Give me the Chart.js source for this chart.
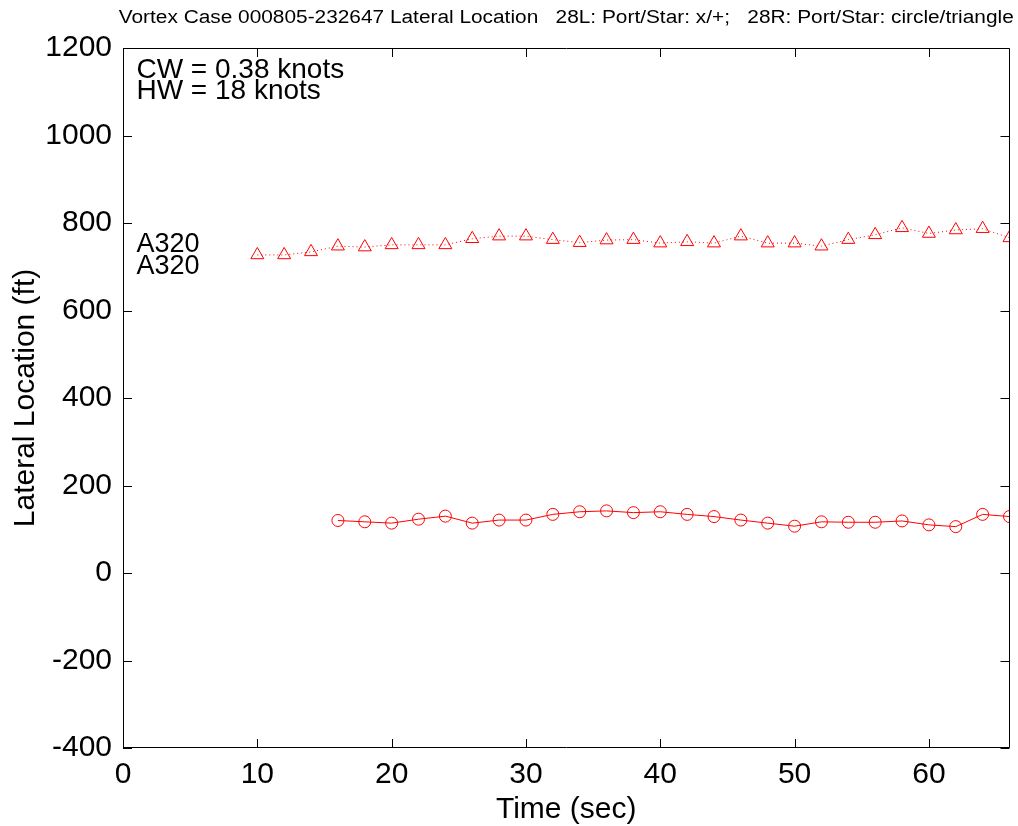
<!DOCTYPE html>
<html>
<head>
<meta charset="utf-8">
<title>Vortex Case 000805-232647 Lateral Location</title>
<script src="https://cdn.jsdelivr.net/npm/chart.js@4/dist/chart.umd.min.js"></script>
<style>
  html, body { margin: 0; padding: 0; background: #ffffff; }
  canvas { display: block; }
</style>
</head>
<body>
<canvas id="c" width="1018" height="826"></canvas>
<script>
// Time axis (sec) for the two tracked vortices
const timeStar = [10, 12, 14, 16, 18, 20, 22, 24, 26, 28, 30, 32, 34, 36, 38, 40,
                  42, 44, 46, 48, 50, 52, 54, 56, 58, 60, 62, 64, 66];
const timePort = [16, 18, 20, 22, 24, 26, 28, 30, 32, 34, 36, 38, 40,
                  42, 44, 46, 48, 50, 52, 54, 56, 58, 60, 62, 64, 66];

// 28R starboard vortex (triangles), lateral location in ft
const lateralStar = [727, 727, 734, 747, 745, 750, 750, 750, 764, 770, 770, 762, 755, 761, 762, 754,
                     757, 754, 770, 754, 754, 747, 762, 773, 789, 776, 784, 787, 766];
// 28R port vortex (circles), lateral location in ft
const lateralPort = [120, 117, 114, 123, 130, 114, 121, 121, 134, 140, 142, 138, 140,
                     134, 129, 121, 114, 107, 117, 116, 116, 119, 110, 106, 134, 129];

const xTicks = [0, 10, 20, 30, 40, 50, 60];
const yTicks = [-400, -200, 0, 200, 400, 600, 800, 1000, 1200];

const titleText = 'Vortex Case 000805-232647 Lateral Location   28L: Port/Star: x/+;   28R: Port/Star: circle/triangle';
const windLines = ['CW = 0.38 knots', 'HW = 18 knots'];
const aircraftLabels = ['A320', 'A320'];

const FONT = '"Liberation Sans", Arial, Helvetica, sans-serif';

// Frame, inward tick marks, header line and text annotations
const framePlugin = {
  id: 'frame',
  afterDraw(chart) {
    const ctx = chart.ctx;
    const a = chart.chartArea;
    const xs = chart.scales.x, ys = chart.scales.y;
    const tl = 9;
    ctx.save();
    ctx.strokeStyle = '#000';
    ctx.lineWidth = 1;
    ctx.beginPath();
    ctx.rect(Math.round(a.left) + 0.5, Math.round(a.top) + 0.5,
             Math.round(a.right - a.left) - 1, Math.round(a.bottom - a.top) - 1);
    xTicks.forEach(v => {
      const px = Math.round(xs.getPixelForValue(v)) + 0.5;
      ctx.moveTo(px, a.bottom); ctx.lineTo(px, a.bottom - tl);
      ctx.moveTo(px, a.top); ctx.lineTo(px, a.top + tl);
    });
    yTicks.forEach(v => {
      const py = Math.round(ys.getPixelForValue(v)) + 0.5;
      ctx.moveTo(a.left, py); ctx.lineTo(a.left + tl, py);
      ctx.moveTo(a.right, py); ctx.lineTo(a.right - tl, py);
    });
    ctx.stroke();

    // header line, centred over the plot
    ctx.fillStyle = '#000';
    ctx.font = '18px "Liberation Sans Narrow", ' + FONT;
    ctx.textBaseline = 'middle';
    ctx.textAlign = 'center';
    const w = ctx.measureText(titleText).width;
    const target = 895;
    const cx = (a.left + a.right) / 2;
    ctx.save();
    ctx.translate(cx, 18);
    ctx.scale(target / w, 1);
    ctx.fillText(titleText, 0, 0);
    ctx.restore();

    // wind annotation and aircraft labels, placed in data coordinates
    ctx.font = '28px ' + FONT;
    ctx.textAlign = 'left';
    ctx.textBaseline = 'middle';
    const tx = xs.getPixelForValue(1);
    ctx.fillText(windLines[0], tx, ys.getPixelForValue(1150));
    ctx.fillText(windLines[1], tx, ys.getPixelForValue(1100));
    ctx.font = '27px ' + FONT;
    ctx.fillText(aircraftLabels[0], tx, ys.getPixelForValue(750));
    ctx.fillText(aircraftLabels[1], tx, ys.getPixelForValue(700));
    ctx.restore();
  }
};

const toPoints = (xs, ys) => xs.map((x, i) => ({ x: x, y: ys[i] }));

new Chart(document.getElementById('c'), {
  type: 'line',
  data: {
    datasets: [
      {
        label: '28R Star',
        data: toPoints(timeStar, lateralStar),
        borderColor: '#ff0000',
        borderWidth: 1,
        borderDash: [1, 3],
        pointStyle: 'triangle',
        pointRadius: 7.5,
        pointBorderWidth: 1,
        pointBorderColor: '#ff0000',
        pointBackgroundColor: 'rgba(0,0,0,0)',
        tension: 0
      },
      {
        label: '28R Port',
        data: toPoints(timePort, lateralPort),
        borderColor: '#ff0000',
        borderWidth: 1,
        pointStyle: 'circle',
        pointRadius: 6,
        pointBorderWidth: 1,
        pointBorderColor: '#ff0000',
        pointBackgroundColor: 'rgba(0,0,0,0)',
        tension: 0
      }
    ]
  },
  options: {
    responsive: false,
    animation: false,
    events: [],
    layout: { padding: { top: 48, right: 2, left: 0, bottom: 0 } },
    plugins: {
      legend: { display: false },
      tooltip: { enabled: false },
      title: { display: false }
    },
    scales: {
      x: {
        type: 'linear',
        min: 0,
        max: 66,
        afterBuildTicks: s => { s.ticks = xTicks.map(v => ({ value: v })); },
        afterFit: s => { s.height = 78; s.paddingLeft = 0; s.paddingRight = 0; },
        grid: { display: false, drawTicks: false },
        border: { display: false },
        ticks: {
          color: '#000',
          padding: 9,
          font: { family: FONT, size: 30 },
          maxRotation: 0,
          autoSkip: false,
          callback: v => String(v)
        },
        title: {
          display: true,
          text: 'Time (sec)',
          color: '#000',
          font: { family: FONT, size: 30, lineHeight: 1.1 },
          padding: { top: 0, bottom: 0 }
        }
      },
      y: {
        type: 'linear',
        min: -400,
        max: 1200,
        afterBuildTicks: s => { s.ticks = yTicks.map(v => ({ value: v })); },
        afterFit: s => { s.width = 123; s.paddingTop = 0; s.paddingBottom = 0; },
        grid: { display: false, drawTicks: false },
        border: { display: false },
        ticks: {
          color: '#000',
          padding: 11,
          font: { family: FONT, size: 30 },
          autoSkip: false,
          callback: v => String(v)
        },
        title: {
          display: true,
          text: 'Lateral Location (ft)',
          color: '#000',
          font: { family: FONT, size: 30, lineHeight: 1.2 },
          padding: { top: 8, bottom: 0 }
        }
      }
    }
  },
  plugins: [framePlugin]
});
</script>
</body>
</html>
